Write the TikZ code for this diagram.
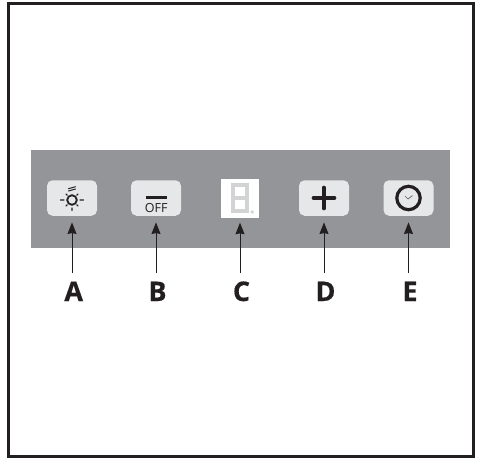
\documentclass[tikz,border=0pt]{standalone}
\usepackage{fontspec}
\setmainfont{Open Sans}
\newfontfamily\letterfont[BoldFeatures={FakeBold=0.5}]{Open Sans}
\definecolor{panelgray}{HTML}{939598}
\definecolor{keygray}{HTML}{E6E7E8}
\definecolor{seggray}{HTML}{D1D3D4}
\definecolor{inkblack}{HTML}{231F20}
\usetikzlibrary{arrows.meta}
\tikzset{
  x=1pt,y=-1pt,
  keybox/.style={fill=keygray,rounded corners=5.5pt,minimum width=50pt,minimum height=35.5pt,inner sep=0pt},
  letter/.style={anchor=base,font=\letterfont\bfseries\fontsize{27}{27}\selectfont,text=inkblack,text height=19pt,text depth=0pt,inner ysep=9pt,inner xsep=0pt},
  callout/.style={draw=inkblack,line width=1pt,-{Stealth[length=11.5pt,width=9pt,inset=0.8pt]},shorten >=6.5pt},
  glyph/.style={draw=inkblack,line cap=round},
  segment/.style={draw=seggray,line width=3.8pt,line cap=butt},
}
\begin{document}
\begin{tikzpicture}
\useasboundingbox (0,0) rectangle (480,459);
\fill[white] (0,0) rectangle (480,459);
\draw[inkblack,line width=2.6pt] (8.3,3.3) rectangle (473.2,456.7);
\fill[panelgray] (30.5,150) rectangle (450,248);

\node[keybox] (bA) at (72,198) {};
\node[keybox] (bB) at (156,198) {};
\node[fill=white,minimum width=38pt,minimum height=39pt,inner sep=0pt] (bC) at (240,198.5) {};
\node[keybox] (bD) at (324,198) {};
\node[keybox] (bE) at (408.5,198) {};

% sun icon
\draw[glyph,line width=1.8pt] (72,200) circle (4.8);
\draw[glyph,line width=1.2pt] (60.5,200) -- (64,200) (80,200) -- (83.5,200) (72,208) -- (72,210.5)
  (66,194) -- (67.3,195.3) (78,194) -- (76.7,195.3) (66,206) -- (67.3,204.7) (78,206) -- (76.7,204.7);
\draw[glyph,line width=1pt] (68.5,191) -- (75.5,189) (68.5,188.7) -- (75.5,186.7);

% off icon
\draw[draw=inkblack,line width=2.8pt] (145.5,197.5) -- (167,197.5);
\node[font=\fontsize{12.5}{12.5}\selectfont,text=inkblack,inner sep=0pt] (off) at (156.3,208.3) {OFF};

% seven-segment digit
\draw[segment] (232.9,184.9) rectangle (247.1,211.1);
\draw[segment] (232.9,198) -- (247.1,198);
\fill[seggray] (252.3,212) circle (1.9);

% plus icon
\draw[glyph,line width=3.6pt] (313.5,198) -- (334.5,198) (324,187.5) -- (324,208.5);

% clock icon
\draw[draw=inkblack,line width=3.2pt] (408.5,198) circle (11.7);
\draw[draw=inkblack!70,line width=0.7pt] (405,196) -- (408,199) -- (412.5,195.5);

\node[letter] (lA) at (73.7,301) {A};
\node[letter] (lB) at (157.5,301) {B};
\node[letter] (lC) at (241.5,301) {C};
\node[letter] (lD) at (325.5,301) {D};
\node[letter] (lE) at (410,301) {E};

\foreach \k in {A,B,D,E}{
  \draw[callout] (b\k.south |- l\k.north) -- (b\k.south);
}
\draw[callout,shorten >=4.5pt] (bC.south |- lC.north) -- (bC.south);
\end{tikzpicture}
\end{document}
